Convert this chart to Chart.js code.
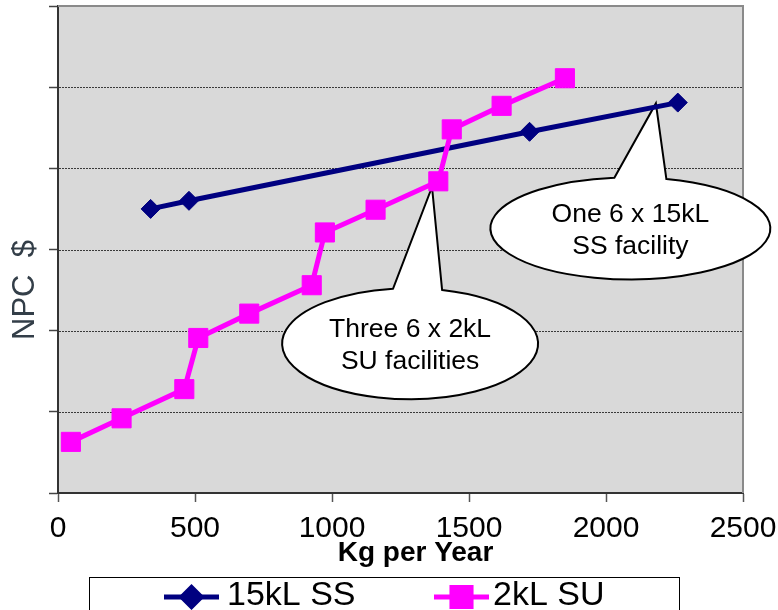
<!DOCTYPE html>
<html>
<head>
<meta charset="utf-8">
<script src="https://cdn.jsdelivr.net/npm/chart.js@4/dist/chart.umd.min.js"></script>
<style>
  html, body { margin: 0; padding: 0; background: #fff; overflow: hidden; }
  #wrap { width: 778px; height: 610px; position: relative; }
</style>
</head>
<body>
<div id="wrap"><canvas id="c" width="778" height="610"></canvas></div>
<script>
// Production volume (kg per year) and net present cost for each facility option
const seriesNames = ['15kL SS', '2kL SU'];
const ssKg  = [338, 478, 1721, 2262];
const ssNpc = [3.50, 3.60, 4.45, 4.81];
const suKg  = [47, 232, 461, 512, 698, 926, 974, 1159, 1388, 1437, 1619, 1850];
const suNpc = [0.63, 0.92, 1.28, 1.91, 2.21, 2.56, 3.21, 3.49, 3.84, 4.48, 4.77, 5.11];
const xTicks = [0, 500, 1000, 1500, 2000, 2500];
const xTitle = 'Kg per Year';
const yTitle = 'NPC  $';
const calloutLines = [
  ['Three 6 x 2kL', 'SU facilities'],
  ['One 6 x 15kL', 'SS facility']
];

const FONT = "'Liberation Sans', Arial, Helvetica, sans-serif";

// Speech-bubble annotations: anchor and tip in data units, radii in pixels
const callouts = [
  { lines: calloutLines[0], at: [1285, 1.84], tip: [1365, 3.77], rx: 128, ry: 55.5, base: [-17, 32] },
  { lines: calloutLines[1], at: [2089, 3.26], tip: [2182, 4.80], rx: 140, ry: 51,   base: [-16, 36] }
];

const toPoints = (xs, ys) => xs.map((v, i) => ({ x: v, y: ys[i] }));

function drawCallout(ctx, xs, ys, c) {
  const cx = xs.getPixelForValue(c.at[0]), cy = ys.getPixelForValue(c.at[1]);
  const tx = xs.getPixelForValue(c.tip[0]), ty = ys.getPixelForValue(c.tip[1]);
  const ang = dx => Math.atan2(-Math.sqrt(1 - (dx / c.rx) ** 2), dx / c.rx);
  const tL = ang(c.base[0]), tR = ang(c.base[1]);
  ctx.beginPath();
  ctx.ellipse(cx, cy, c.rx, c.ry, 0, tR, tL, false);
  ctx.lineTo(tx, ty);
  ctx.closePath();
  ctx.fillStyle = '#fff';
  ctx.fill();
  ctx.strokeStyle = '#000';
  ctx.lineWidth = 2;
  ctx.lineJoin = 'miter';
  ctx.stroke();
  ctx.fillStyle = '#000';
  ctx.font = '26.5px ' + FONT;
  ctx.textAlign = 'center';
  ctx.textBaseline = 'alphabetic';
  ctx.fillText(c.lines[0], cx, cy - 6.5);
  ctx.fillText(c.lines[1], cx, cy + 25.5);
}

const decor = {
  id: 'decor',
  beforeDraw(chart) {
    const { ctx, chartArea: a } = chart;
    ctx.save();
    ctx.fillStyle = '#fff';
    ctx.fillRect(0, 0, chart.width, chart.height);
    ctx.fillStyle = '#d9d9d9';
    ctx.fillRect(a.left, a.top, a.right - a.left, a.bottom - a.top);
    ctx.restore();
  },
  beforeDatasetsDraw(chart) {
    const { ctx, chartArea: a, scales: { x, y } } = chart;
    ctx.save();
    // dotted horizontal grid
    ctx.strokeStyle = '#3a3a3a';
    ctx.lineWidth = 1;
    ctx.setLineDash([2, 1]);
    y.ticks.forEach(t => {
      if (t.value <= y.min || t.value >= y.max) return;
      const py = Math.round(y.getPixelForValue(t.value)) + 0.5;
      ctx.beginPath();
      ctx.moveTo(a.left + 1, py);
      ctx.lineTo(a.right, py);
      ctx.stroke();
    });
    ctx.setLineDash([]);
    // top and right frame of the plot area
    ctx.strokeStyle = '#8a8a8a';
    ctx.lineWidth = 2;
    ctx.beginPath();
    ctx.moveTo(a.left, a.top);
    ctx.lineTo(a.right, a.top);
    ctx.lineTo(a.right, a.bottom);
    ctx.stroke();
    callouts.forEach(c => drawCallout(ctx, x, y, c));
    ctx.restore();
  },
  afterDraw(chart) {
    const { ctx } = chart;
    ctx.save();
    // axis titles
    ctx.fillStyle = '#000';
    ctx.font = 'bold 28px ' + FONT;
    ctx.textAlign = 'center';
    ctx.textBaseline = 'alphabetic';
    ctx.fillText(xTitle, 415.5, 561);

    ctx.save();
    ctx.translate(34, 290);
    ctx.rotate(-Math.PI / 2);
    ctx.fillStyle = '#333e48';
    ctx.font = '31px ' + FONT;
    ctx.fillText(yTitle, 0, 0);
    ctx.restore();

    // legend box
    ctx.fillStyle = '#fff';
    ctx.strokeStyle = '#000';
    ctx.lineWidth = 1;
    ctx.fillRect(89.5, 577.5, 590, 50);
    ctx.strokeRect(89.5, 577.5, 590, 50);
    const slots = [{ x0: 164, x1: 219, tx: 227 }, { x0: 434, x1: 489, tx: 493 }];
    chart.data.datasets.forEach((ds, i) => {
      const s = slots[i], ly = 597;
      ctx.strokeStyle = ds.borderColor;
      ctx.lineWidth = ds.borderWidth;
      ctx.beginPath();
      ctx.moveTo(s.x0, ly);
      ctx.lineTo(s.x1, ly);
      ctx.stroke();
      ctx.fillStyle = ds.pointBackgroundColor;
      ctx.strokeStyle = ds.pointBorderColor;
      Chart.helpers.drawPoint(ctx, {
        pointStyle: ds.pointStyle, rotation: 0,
        radius: ds.pointRadius, borderWidth: ds.pointBorderWidth
      }, (s.x0 + s.x1) / 2, ly);
      ctx.fillStyle = '#000';
      ctx.font = '34px ' + FONT;
      ctx.textAlign = 'left';
      ctx.fillText(ds.label, s.tx, 604.5);
    });
    ctx.restore();
  }
};

new Chart(document.getElementById('c'), {
  type: 'line',
  data: {
    datasets: [
      {
        label: seriesNames[0],
        data: toPoints(ssKg, ssNpc),
        borderColor: '#000080',
        backgroundColor: '#000080',
        borderWidth: 5,
        pointStyle: 'rectRot',
        pointRadius: 9.5,
        pointBackgroundColor: '#000080',
        pointBorderColor: '#000080',
        pointBorderWidth: 1,
        tension: 0,
        order: 2
      },
      {
        label: seriesNames[1],
        data: toPoints(suKg, suNpc),
        borderColor: '#ff00ff',
        backgroundColor: '#ff00ff',
        borderWidth: 5,
        pointStyle: 'rect',
        pointRadius: 13.5,
        pointBackgroundColor: '#ff00ff',
        pointBorderColor: '#ff00ff',
        pointBorderWidth: 1,
        tension: 0,
        order: 1
      }
    ]
  },
  options: {
    responsive: false,
    animation: false,
    devicePixelRatio: 1,
    layout: { autoPadding: false, padding: { left: 0, top: 6, right: 35, bottom: 0 } },
    plugins: { legend: { display: false }, tooltip: { enabled: false } },
    scales: {
      x: {
        type: 'linear',
        min: xTicks[0],
        max: xTicks[xTicks.length - 1],
        afterBuildTicks: s => { s.ticks = xTicks.map(v => ({ value: v })); },
        afterFit: s => { s.height = 117; s.paddingLeft = 0; s.paddingRight = 0; },
        ticks: {
          font: { family: FONT, size: 30 }, color: '#000', padding: 9,
          maxRotation: 0, autoSkip: false,
          callback: v => String(v)
        },
        grid: { drawOnChartArea: false, drawTicks: true, tickLength: 9, tickColor: '#555', tickWidth: 1.5 },
        border: { color: '#333', width: 2 }
      },
      y: {
        type: 'linear',
        min: 0,
        max: 6,
        ticks: { stepSize: 1, display: false },
        afterFit: s => { s.width = 58; s.paddingTop = 0; s.paddingBottom = 0; },
        grid: { drawOnChartArea: false, drawTicks: true, tickLength: 9, tickColor: '#444', tickWidth: 1.5 },
        border: { color: '#333', width: 2 }
      }
    }
  },
  plugins: [decor]
});
</script>
</body>
</html>
